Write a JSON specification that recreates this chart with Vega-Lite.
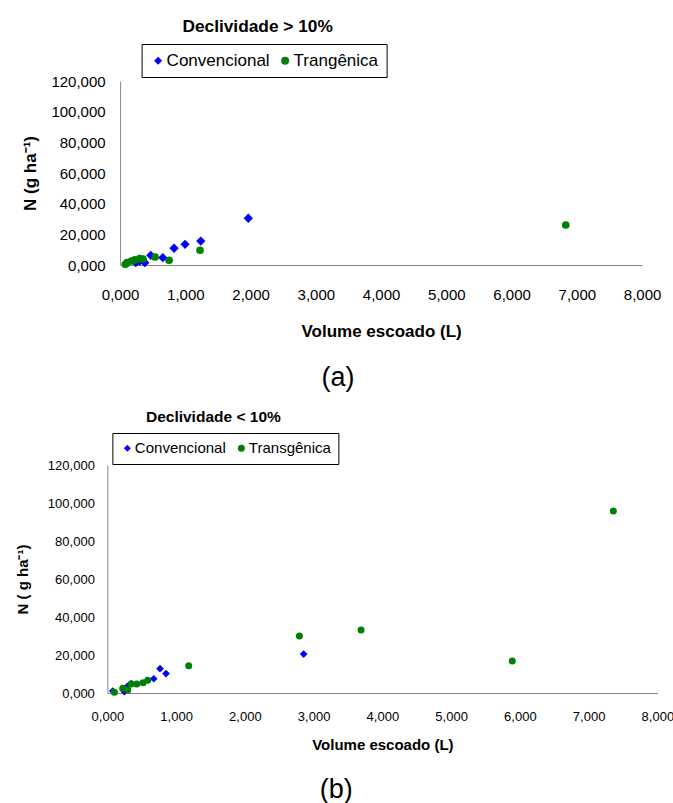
{
  "$schema": "https://vega.github.io/schema/vega-lite/v6.json",
  "background": "white",
  "padding": {"left": 15, "top": 17, "right": 0, "bottom": 0},
  "center": true,
  "spacing": 18,
  "resolve": {"scale": {"color": "independent", "shape": "independent", "x": "independent", "y": "independent"}, "legend": {"color": "independent", "shape": "independent"}},
  "config": {
    "view": {"stroke": null},
    "font": "Liberation Sans",
    "axis": {
      "grid": false, "ticks": false, "tickSize": 0,
      "domainColor": "#888888", "domainWidth": 1,
      "labelFont": "Liberation Sans", "labelColor": "#000000",
      "titleFont": "Liberation Sans", "titleColor": "#000000", "titleFontWeight": "bold",
      "labelFlush": false, "labelOverlap": false
    },
    "legend": {"labelFont": "Liberation Sans", "labelColor": "#000000"}
  },
  "vconcat": [
    {
      "width": 522,
      "height": 184,
      "title": {"text": "(a)", "orient": "bottom", "anchor": "middle", "frame": "group", "dx": -43, "font": "Liberation Sans", "fontSize": 27, "fontWeight": "normal", "color": "#000000", "offset": 26},
      "data": {"values": [
        {"serie_a": "Convencional", "vol": 1.965, "N": 30.5},
        {"serie_a": "Convencional", "vol": 1.236, "N": 15.6},
        {"serie_a": "Convencional", "vol": 0.995, "N": 13.5},
        {"serie_a": "Convencional", "vol": 0.827, "N": 10.9},
        {"serie_a": "Convencional", "vol": 0.654, "N": 4.8},
        {"serie_a": "Convencional", "vol": 0.470, "N": 6.3},
        {"serie_a": "Convencional", "vol": 0.378, "N": 1.5},
        {"serie_a": "Convencional", "vol": 0.300, "N": 2.5},
        {"serie_a": "Convencional", "vol": 0.240, "N": 1.5},
        {"serie_a": "Trangênica", "vol": 6.83, "N": 26.1},
        {"serie_a": "Trangênica", "vol": 1.225, "N": 9.6},
        {"serie_a": "Trangênica", "vol": 0.750, "N": 3.1},
        {"serie_a": "Trangênica", "vol": 0.536, "N": 5.2},
        {"serie_a": "Trangênica", "vol": 0.352, "N": 3.9},
        {"serie_a": "Trangênica", "vol": 0.301, "N": 4.1},
        {"serie_a": "Trangênica", "vol": 0.225, "N": 3.3},
        {"serie_a": "Trangênica", "vol": 0.173, "N": 2.6},
        {"serie_a": "Trangênica", "vol": 0.107, "N": 1.5},
        {"serie_a": "Trangênica", "vol": 0.081, "N": 0.5}
      ]},
      "resolve": {"axis": {"x": "independent"}},
      "layer": [
        {
          "transform": [{"filter": "datum.serie_a === 'Convencional'"}],
          "mark": {"type": "point", "filled": true, "opacity": 1, "size": 87},
          "encoding": {
            "x": {"field": "vol", "type": "quantitative", "scale": {"domain": [0, 8], "nice": false, "zero": true},
              "axis": {"orient": "bottom", "title": "Volume escoado (L)", "values": [0, 1, 2, 3, 4, 5, 6, 7, 8], "labelExpr": "replace(format(datum.value, '.3f'), '.', ',')", "labelOverlap": false, "labelFontSize": 15, "labelPadding": 22, "titleFontSize": 17, "titlePadding": 21}},
            "y": {"field": "N", "type": "quantitative", "scale": {"domain": [0, 120], "nice": false},
              "axis": {"title": "N (g ha⁻¹)", "values": [0, 20, 40, 60, 80, 100, 120], "labelExpr": "replace(format(datum.value, '.3f'), '.', ',')", "labelOverlap": false, "labelFontSize": 15, "labelPadding": 15, "titleFontSize": 17, "titlePadding": 11}},
            "color": {"field": "serie_a", "type": "nominal", "scale": {"domain": ["Convencional", "Trangênica"], "range": ["#0000FF", "#008000"]},
              "legend": {"title": null, "orient": "none", "legendX": 21.5, "legendY": -37, "direction": "horizontal", "columns": 2, "strokeColor": "#000000", "fillColor": "#FFFFFF", "padding": 8, "labelFontSize": 17, "symbolSize": 64, "labelOffset": 0, "columnPadding": 6}},
            "shape": {"field": "serie_a", "type": "nominal", "scale": {"domain": ["Convencional", "Trangênica"], "range": ["diamond", "circle"]}}
          }
        },
        {
          "transform": [{"filter": "datum.serie_a !== 'Convencional'"}],
          "mark": {"type": "point", "filled": true, "opacity": 1, "size": 59},
          "encoding": {
            "x": {"field": "vol", "type": "quantitative", "scale": {"domain": [0, 8], "nice": false, "zero": true},
              "axis": {"orient": "top", "title": "Declividade > 10%", "labels": false, "domain": false, "ticks": false, "titleFontSize": 17.3, "titleFontWeight": "bold", "titleBaseline": "alphabetic", "titlePadding": 50, "titleX": 137}},
            "y": {"field": "N", "type": "quantitative", "scale": {"domain": [0, 120], "nice": false},
              "axis": {"title": "N (g ha⁻¹)", "values": [0, 20, 40, 60, 80, 100, 120], "labelExpr": "replace(format(datum.value, '.3f'), '.', ',')", "labelOverlap": false, "labelFontSize": 15, "labelPadding": 15, "titleFontSize": 17, "titlePadding": 11}},
            "color": {"field": "serie_a", "type": "nominal", "scale": {"domain": ["Convencional", "Trangênica"], "range": ["#0000FF", "#008000"]}},
            "shape": {"field": "serie_a", "type": "nominal", "scale": {"domain": ["Convencional", "Trangênica"], "range": ["diamond", "circle"]}}
          }
        }
      ]
    },
    {
      "width": 550,
      "height": 228,
      "title": {"text": "(b)", "orient": "bottom", "anchor": "middle", "frame": "group", "dx": -46, "font": "Liberation Sans", "fontSize": 27, "fontWeight": "normal", "color": "#000000", "offset": 25},
      "data": {"values": [
        {"serie_b": "Convencional", "vol": 2.855, "N": 20.5},
        {"serie_b": "Convencional", "vol": 0.766, "N": 12.8},
        {"serie_b": "Convencional", "vol": 0.853, "N": 10.2},
        {"serie_b": "Convencional", "vol": 0.674, "N": 7.5},
        {"serie_b": "Convencional", "vol": 0.350, "N": 5.0},
        {"serie_b": "Convencional", "vol": 0.290, "N": 3.5},
        {"serie_b": "Convencional", "vol": 0.247, "N": 0.7},
        {"serie_b": "Convencional", "vol": 0.078, "N": 1.05},
        {"serie_b": "Transgênica", "vol": 7.36, "N": 95.8},
        {"serie_b": "Transgênica", "vol": 5.89, "N": 16.8},
        {"serie_b": "Transgênica", "vol": 3.69, "N": 33.2},
        {"serie_b": "Transgênica", "vol": 2.793, "N": 30.0},
        {"serie_b": "Transgênica", "vol": 1.183, "N": 14.4},
        {"serie_b": "Transgênica", "vol": 0.587, "N": 6.7},
        {"serie_b": "Transgênica", "vol": 0.519, "N": 5.4},
        {"serie_b": "Transgênica", "vol": 0.427, "N": 4.7},
        {"serie_b": "Transgênica", "vol": 0.344, "N": 4.7},
        {"serie_b": "Transgênica", "vol": 0.296, "N": 1.6},
        {"serie_b": "Transgênica", "vol": 0.223, "N": 2.5},
        {"serie_b": "Transgênica", "vol": 0.102, "N": 0.4}
      ]},
      "resolve": {"axis": {"x": "independent"}},
      "layer": [
        {
          "transform": [{"filter": "datum.serie_b === 'Convencional'"}],
          "mark": {"type": "point", "filled": true, "opacity": 1, "size": 59},
          "encoding": {
            "x": {"field": "vol", "type": "quantitative", "scale": {"domain": [0, 8], "nice": false, "zero": true},
              "axis": {"orient": "bottom", "title": "Volume escoado (L)", "values": [0, 1, 2, 3, 4, 5, 6, 7, 8], "labelExpr": "replace(format(datum.value, '.3f'), '.', ',')", "labelOverlap": false, "labelFontSize": 13, "labelPadding": 17, "titleFontSize": 15, "titlePadding": 14}},
            "y": {"field": "N", "type": "quantitative", "scale": {"domain": [0, 120], "nice": false},
              "axis": {"title": "N ( g ha⁻¹)", "values": [0, 20, 40, 60, 80, 100, 120], "labelExpr": "replace(format(datum.value, '.3f'), '.', ',')", "labelOverlap": false, "labelFontSize": 13, "labelPadding": 13, "titleFontSize": 15, "titlePadding": 16.5}},
            "color": {"field": "serie_b", "type": "nominal", "scale": {"domain": ["Convencional", "Transgênica"], "range": ["#0000FF", "#008000"]},
              "legend": {"title": null, "orient": "none", "legendX": 5, "legendY": -32, "direction": "horizontal", "columns": 2, "strokeColor": "#000000", "fillColor": "#FFFFFF", "padding": 7.5, "labelFontSize": 15, "symbolSize": 49, "labelOffset": 0, "columnPadding": 8}},
            "shape": {"field": "serie_b", "type": "nominal", "scale": {"domain": ["Convencional", "Transgênica"], "range": ["diamond", "circle"]}}
          }
        },
        {
          "transform": [{"filter": "datum.serie_b !== 'Convencional'"}],
          "mark": {"type": "point", "filled": true, "opacity": 1, "size": 49},
          "encoding": {
            "x": {"field": "vol", "type": "quantitative", "scale": {"domain": [0, 8], "nice": false, "zero": true},
              "axis": {"orient": "top", "title": "Declividade < 10%", "labels": false, "domain": false, "ticks": false, "titleFontSize": 15.5, "titleFontWeight": "bold", "titleBaseline": "alphabetic", "titlePadding": 43.5, "titleX": 105.5}},
            "y": {"field": "N", "type": "quantitative", "scale": {"domain": [0, 120], "nice": false},
              "axis": {"title": "N ( g ha⁻¹)", "values": [0, 20, 40, 60, 80, 100, 120], "labelExpr": "replace(format(datum.value, '.3f'), '.', ',')", "labelOverlap": false, "labelFontSize": 13, "labelPadding": 13, "titleFontSize": 15, "titlePadding": 16.5}},
            "color": {"field": "serie_b", "type": "nominal", "scale": {"domain": ["Convencional", "Transgênica"], "range": ["#0000FF", "#008000"]}},
            "shape": {"field": "serie_b", "type": "nominal", "scale": {"domain": ["Convencional", "Transgênica"], "range": ["diamond", "circle"]}}
          }
        }
      ]
    }
  ]
}
